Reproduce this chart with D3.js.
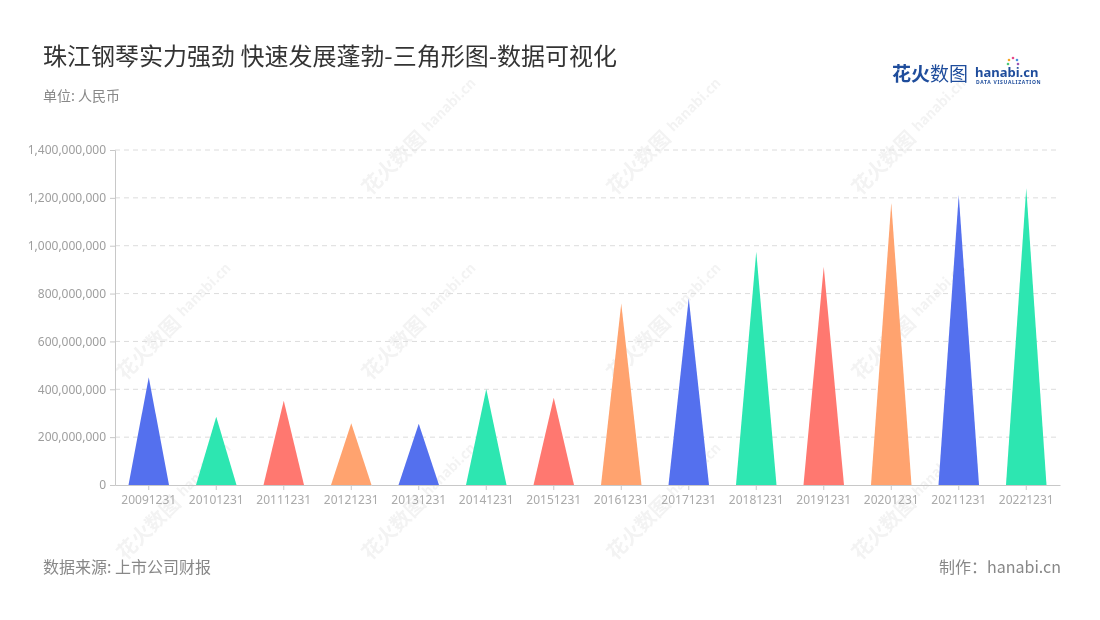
<!DOCTYPE html>
<html><head><meta charset="utf-8">
<script src="https://cdn.jsdelivr.net/npm/d3@7/dist/d3.min.js"></script>
<style>body{margin:0;background:#fff;} svg{display:block;font-family:"Noto Sans CJK SC","Noto Sans",sans-serif;}</style>
</head><body><svg id="c" width="1100" height="620"></svg>
<script>
const categories = ["20091231","20101231","20111231","20121231","20131231","20141231","20151231","20161231","20171231","20181231","20191231","20201231","20211231","20221231"];
const values = [450000000,285000000,352000000,258000000,256000000,401000000,365000000,759000000,780000000,975000000,912000000,1180000000,1212000000,1240000000];
const yTicks = [0,200000000,400000000,600000000,800000000,1000000000,1200000000,1400000000];
const palette = ["#5470EE","#2DE6B1","#FF7870","#FFA36F"];
const title = "珠江钢琴实力强劲 快速发展蓬勃-三角形图-数据可视化";
const unit = "单位: 人民币";
const source = "数据来源: 上市公司财报";
const maker = "制作：hanabi.cn";

const svg = d3.select("#c");
const m = {l:115, r:1060, t:150, b:485};

// watermarks
const wm = svg.append("g").attr("opacity",0.08);
const wmPos = [[400,155],[645,155],[890,155],[155,340],[400,340],[645,340],[890,340],[155,520],[400,520],[645,520],[890,520]];
wmPos.forEach(([x,y])=>{
  const g = wm.append("g").attr("transform",`translate(${x},${y}) rotate(-45)`);
  g.append("text").attr("x",-50).attr("y",8).attr("font-size",20).attr("font-weight","bold").attr("fill","#666").text("花火数图");
  g.append("text").attr("x",36).attr("y",4).attr("font-size",14).attr("font-weight","bold").attr("fill","#666").text("hanabi.cn");
});

const x = d3.scaleBand().domain(categories).range([m.l,m.r]).paddingInner(0).paddingOuter(0);
const y = d3.scaleLinear().domain([0,1400000000]).range([m.b,m.t]);

// grid
svg.append("g").selectAll("line").data(yTicks.slice(1)).join("line")
  .attr("x1",m.l).attr("x2",m.r).attr("y1",d=>y(d)).attr("y2",d=>y(d))
  .attr("stroke","#dcdcdc").attr("stroke-dasharray","5,4").attr("stroke-width",1);

// y axis
const ya = svg.append("g").attr("transform",`translate(${m.l},0)`)
  .call(d3.axisLeft(y).tickValues(yTicks).tickSize(5).tickPadding(4).tickFormat(d3.format(",")));
ya.select(".domain").attr("stroke","#c8c8c8");
ya.selectAll(".tick line").attr("stroke","#c8c8c8");
ya.selectAll("text").attr("fill","#9e9e9e").attr("font-size",12).attr("font-family","Noto Sans, sans-serif");

// x axis
const xa = svg.append("g").attr("transform",`translate(0,${m.b})`)
  .call(d3.axisBottom(x).tickSize(5).tickPadding(5).tickSizeOuter(0));
xa.select(".domain").attr("stroke","#c8c8c8");
xa.selectAll(".tick line").attr("stroke","#c8c8c8");
xa.selectAll("text").attr("fill","#aaa").attr("font-size",12).attr("font-family","Noto Sans, sans-serif");

// triangles
const bw = x.bandwidth()*0.6;
svg.append("g").selectAll("path").data(categories).join("path")
  .attr("d",(c,i)=>{
    const cx = x(c)+x.bandwidth()/2;
    return `M${cx-bw/2},${y(0)} L${cx},${y(values[i])} L${cx+bw/2},${y(0)} Z`;
  })
  .attr("fill",(c,i)=>palette[i%palette.length]);

// titles
svg.append("text").attr("x",43).attr("y",65).attr("font-size",24).attr("fill","#333").text(title);
svg.append("text").attr("x",43).attr("y",101).attr("font-size",14).attr("fill","#888").text(unit);
svg.append("text").attr("x",43).attr("y",573).attr("font-size",16).attr("fill","#888").text(source);
svg.append("text").attr("x",1061).attr("y",573).attr("text-anchor","end").attr("font-size",16).attr("fill","#888").text(maker);

// logo
const lg = svg.append("g");
lg.append("text").attr("x",892).attr("y",81).attr("font-size",19).attr("font-weight","bold").attr("fill","#1f4d9c").text("花火");
lg.append("text").attr("x",930).attr("y",81).attr("font-size",19).attr("fill","#1f4d9c").text("数图");
lg.append("text").attr("x",975).attr("y",77).attr("font-size",13).attr("font-weight","bold").attr("fill","#1f4d9c").attr("font-family","Noto Sans, sans-serif").text("hanabi.cn");
lg.append("text").attr("x",976).attr("y",84).attr("font-size",5).attr("font-weight","bold").attr("fill","#1f4d9c").attr("letter-spacing",0.7).attr("font-family","Noto Sans, sans-serif").text("DATA VISUALIZATION");
const dots = [["#f6a623",-4,-4],["#e64a8a",0,-6],["#4a90e2",4,-4],["#50c878",-5,0],["#9b59b6",5,0]];
dots.forEach(([c,dx,dy])=>lg.append("circle").attr("cx",1013+dx).attr("cy",64+dy).attr("r",1.3).attr("fill",c));
</script></body></html>
